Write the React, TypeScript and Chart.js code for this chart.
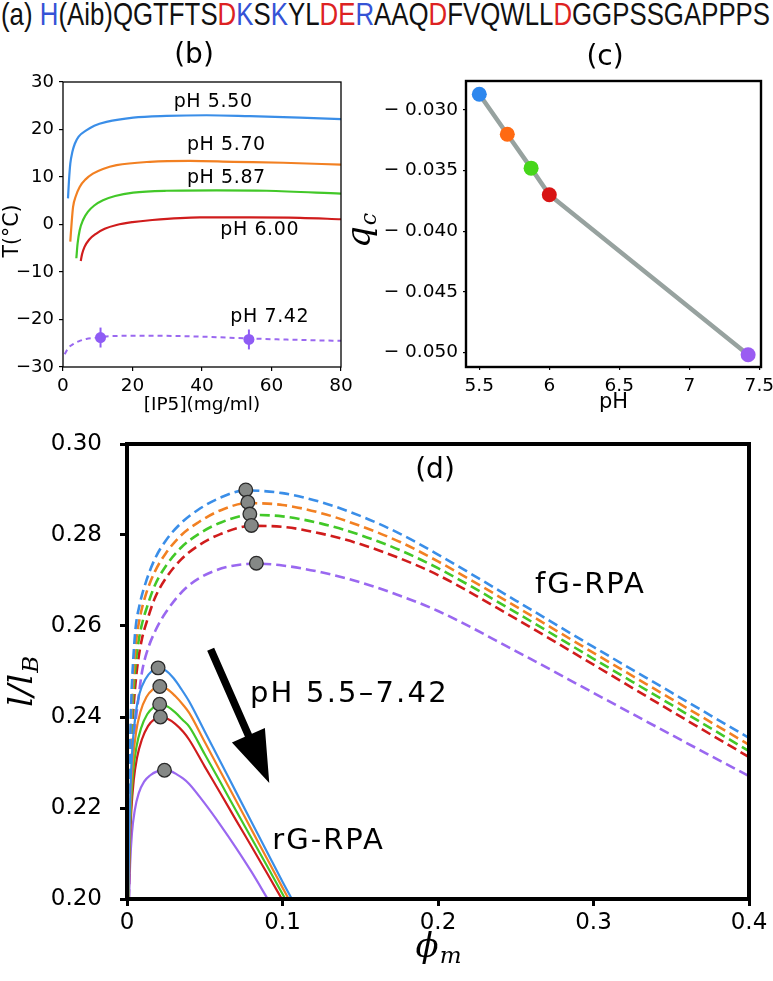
import React, { useEffect, useLayoutEffect, useRef, useState } from "react";
import { Chart, registerables } from "chart.js";
Chart.register(...registerables);

// ================= DATA =================
// (a) peptide sequence, split by residue charge
const seqParts = ["H", "(Aib)QGTFTS", "D", "K", "S", "K", "YL", "DE", "R", "AAQ", "D", "FVQWLL", "D", "GGPSSGAPPPS"];
const seqCharge = ["+", "0", "-", "+", "0", "+", "0", "-", "+", "0", "-", "0", "-", "0"];

// (b) T (°C) vs [IP5] (mg/ml)
const bNames = ["pH 5.50", "pH 5.70", "pH 5.87", "pH 6.00", "pH 7.42"];
const bX_550 = [1.44, 1.7, 2.1, 2.7, 3.4, 4.5, 6.7, 9, 12.5, 20.2, 29.8, 41.3, 53.8, 68.2, 80];
const bT_550 = [5.5, 9.0, 12.8, 15.3, 17.0, 18.5, 19.8, 20.8, 21.6, 22.5, 22.86, 23.0, 22.8, 22.5, 22.2];
const bX_570 = [2.1, 2.5, 2.9, 3.7, 4.8, 6.5, 8.6, 11.5, 15.4, 25, 36.5, 49, 63.4, 80];
const bT_570 = [-3.6, 0.5, 3.7, 6.0, 7.9, 9.5, 10.7, 11.7, 12.5, 13.2, 13.4, 13.2, 13.0, 12.6];
const bX_587 = [3.84, 4.2, 4.8, 5.8, 7.2, 9, 11.5, 15, 20.2, 29.8, 44.2, 58.6, 80];
const bT_587 = [-7.1, -4.0, -1.2, 1.0, 2.7, 4.0, 5.1, 6.0, 6.7, 7.1, 7.2, 7.1, 6.5];
const bX_600 = [5.1, 5.5, 6.2, 7.5, 9.6, 12, 15.4, 20, 25, 39.4, 53.8, 68.2, 80];
const bT_600 = [-7.7, -6.2, -4.7, -3.2, -1.9, -0.9, -0.1, 0.5, 0.9, 1.5, 1.5, 1.4, 1.1];
const bX_742 = [0.5, 1.5, 2.9, 4.5, 6.7, 10, 13.4, 25, 39.4, 53.8, 68.2, 80];
const bT_742 = [-27.3, -26.0, -25.2, -24.6, -24.1, -23.8, -23.5, -23.4, -23.6, -24.0, -24.3, -24.5];
const bExpX = [10.8, 53.5];
const bExpT = [-23.8, -24.2];
const bExpErr = [2.1, 2.1];

// (c) q_c vs pH
const cPH = [5.5, 5.7, 5.87, 6.0, 7.42];
const cQ = [-0.0287, -0.0320, -0.0348, -0.0370, -0.0502];

// (d) l/l_B vs phi_m
const dFgX_550 = [0.0008, 0.0012, 0.0018, 0.0027, 0.004, 0.0055, 0.008, 0.012, 0.018, 0.025, 0.035, 0.046, 0.06, 0.076, 0.1, 0.125, 0.15, 0.176, 0.2, 0.25, 0.3, 0.35, 0.4];
const dFgY_550 = [0.200, 0.214, 0.230, 0.243, 0.2525, 0.2595, 0.2645, 0.2695, 0.2748, 0.2788, 0.2827, 0.2856, 0.2882, 0.2898, 0.2892, 0.2872, 0.2842, 0.2802, 0.2757, 0.2656, 0.2554, 0.2454, 0.2354];
const dFgX_570 = [0.0009, 0.0013, 0.002, 0.003, 0.0045, 0.006, 0.0085, 0.012, 0.018, 0.025, 0.035, 0.046, 0.06, 0.0777, 0.1, 0.125, 0.15, 0.176, 0.2, 0.25, 0.3, 0.35, 0.4];
const dFgY_570 = [0.200, 0.213, 0.229, 0.2415, 0.251, 0.257, 0.2622, 0.2668, 0.2720, 0.2760, 0.2800, 0.2828, 0.2854, 0.2870, 0.2866, 0.2848, 0.2820, 0.2784, 0.2742, 0.2643, 0.2541, 0.2440, 0.2339];
const dFgX_587 = [0.001, 0.0014, 0.0022, 0.0033, 0.005, 0.0065, 0.009, 0.013, 0.018, 0.025, 0.035, 0.046, 0.06, 0.079, 0.1, 0.125, 0.15, 0.176, 0.2, 0.25, 0.3, 0.35, 0.4];
const dFgY_587 = [0.200, 0.212, 0.228, 0.240, 0.2495, 0.2545, 0.2595, 0.2643, 0.2690, 0.2732, 0.2773, 0.2802, 0.2827, 0.2844, 0.2841, 0.2825, 0.2800, 0.2766, 0.2727, 0.2630, 0.2528, 0.2427, 0.2325];
const dFgX_600 = [0.0011, 0.0015, 0.0024, 0.0036, 0.0055, 0.007, 0.0095, 0.0135, 0.018, 0.025, 0.035, 0.046, 0.06, 0.08, 0.1, 0.125, 0.15, 0.176, 0.2, 0.25, 0.3, 0.35, 0.4];
const dFgY_600 = [0.200, 0.211, 0.227, 0.2385, 0.2475, 0.252, 0.257, 0.2618, 0.2662, 0.2705, 0.2747, 0.2777, 0.2802, 0.2820, 0.2818, 0.2803, 0.2780, 0.2748, 0.2712, 0.2616, 0.2515, 0.2413, 0.2312];
const dFgX_742 = [0.0012, 0.002, 0.003, 0.0045, 0.0075, 0.0097, 0.013, 0.0183, 0.025, 0.0377, 0.057, 0.083, 0.1, 0.125, 0.15, 0.176, 0.2, 0.25, 0.3, 0.35, 0.4];
const dFgY_742 = [0.200, 0.214, 0.2255, 0.235, 0.2445, 0.2500, 0.2545, 0.2590, 0.2630, 0.2683, 0.2722, 0.2737, 0.2733, 0.2718, 0.2696, 0.2666, 0.2633, 0.2545, 0.2453, 0.2361, 0.2270];

const dRgX_550 = [0.0008, 0.0014, 0.0022, 0.0035, 0.0055, 0.008, 0.012, 0.016, 0.02, 0.025, 0.03, 0.035, 0.04, 0.05, 0.06, 0.07, 0.08, 0.09, 0.1, 0.106];
const dRgY_550 = [0.200, 0.213, 0.224, 0.2335, 0.2405, 0.2451, 0.2484, 0.2501, 0.2508, 0.2502, 0.2485, 0.2461, 0.2434, 0.2368, 0.2302, 0.2236, 0.2170, 0.2104, 0.2038, 0.2000];
const dRgX_570 = [0.0009, 0.0015, 0.0024, 0.0038, 0.0058, 0.0085, 0.0125, 0.0165, 0.0211, 0.026, 0.031, 0.036, 0.04, 0.05, 0.06, 0.07, 0.08, 0.09, 0.1, 0.104];
const dRgY_570 = [0.200, 0.2125, 0.2225, 0.2305, 0.2366, 0.2410, 0.2444, 0.2460, 0.2467, 0.2461, 0.2446, 0.2427, 0.2409, 0.2345, 0.2281, 0.2217, 0.2153, 0.2089, 0.2025, 0.2000];
const dRgX_587 = [0.001, 0.0016, 0.0026, 0.004, 0.006, 0.009, 0.013, 0.017, 0.021, 0.026, 0.031, 0.036, 0.04, 0.05, 0.06, 0.07, 0.08, 0.09, 0.1018];
const dRgY_587 = [0.200, 0.2115, 0.2210, 0.2280, 0.2333, 0.2375, 0.2406, 0.2421, 0.2428, 0.2423, 0.2410, 0.2393, 0.2379, 0.2318, 0.2257, 0.2195, 0.2134, 0.2073, 0.2000];
const dRgX_600 = [0.0011, 0.0017, 0.0028, 0.0043, 0.0064, 0.0095, 0.0135, 0.0175, 0.0215, 0.026, 0.031, 0.036, 0.04, 0.05, 0.06, 0.07, 0.08, 0.09, 0.0996];
const dRgY_600 = [0.200, 0.2105, 0.2195, 0.2260, 0.2310, 0.2350, 0.2380, 0.2395, 0.2400, 0.2396, 0.2385, 0.2368, 0.2350, 0.2291, 0.2233, 0.2174, 0.2116, 0.2057, 0.2000];
const dRgX_742 = [0.0013, 0.002, 0.0032, 0.005, 0.0075, 0.011, 0.015, 0.019, 0.024, 0.028, 0.032, 0.036, 0.04, 0.05, 0.06, 0.07, 0.08, 0.0905];
const dRgY_742 = [0.200, 0.2075, 0.2145, 0.2195, 0.2232, 0.2258, 0.2272, 0.2280, 0.2283, 0.2281, 0.2274, 0.2265, 0.2253, 0.2210, 0.2163, 0.2113, 0.2060, 0.2000];

const dRgPeakX = [0.020, 0.0211, 0.021, 0.0215, 0.0241];
const dRgPeakY = [0.2508, 0.2467, 0.2428, 0.2400, 0.2283];
const dFgPeakX = [0.0764, 0.0777, 0.079, 0.080, 0.0832];
const dFgPeakY = [0.2899, 0.2872, 0.2846, 0.2821, 0.2738];

// ================= STYLE =================
const SANS = "'DejaVu Sans', sans-serif";
const SERIF = "'DejaVu Serif', serif";
const COL = ["#3a8ee8", "#f28022", "#42c828", "#d01c1c", "#9a68f0"];
const COL_C = ["#2d87ee", "#ff6a12", "#46d61a", "#d81414", "#9a5cf2"];
const SEQ_COL: Record<string, string> = { "+": "#3553d6", "-": "#dd2222", "0": "#111" };

const pts = (xs: number[], ys: number[]) => xs.map((x, i) => ({ x, y: ys[i] }));

function txt(ctx: CanvasRenderingContext2D, s: string, x: number, y: number, font: string, o: any = {}) {
  ctx.save();
  ctx.font = font;
  ctx.fillStyle = o.color || "#000";
  ctx.textAlign = o.align || "center";
  ctx.textBaseline = o.baseline || "middle";
  (ctx as any).letterSpacing = (o.spacing || 0) + "px";
  ctx.translate(x, y);
  if (o.rot) ctx.rotate(o.rot);
  ctx.fillText(s, 0, 0);
  ctx.restore();
}

// main + subscript, centred at (cx, cy), optionally rotated
function subLabel(ctx: CanvasRenderingContext2D, main: string, sub: string, cx: number, cy: number, f1: string, f2: string, drop: number, rot = 0) {
  ctx.save();
  ctx.translate(cx, cy);
  if (rot) ctx.rotate(rot);
  ctx.font = f1;
  const w1 = ctx.measureText(main).width;
  ctx.font = f2;
  const w2 = ctx.measureText(sub).width;
  const x0 = -(w1 + w2) / 2;
  ctx.fillStyle = "#000";
  ctx.textAlign = "left";
  ctx.textBaseline = "alphabetic";
  ctx.font = f1;
  ctx.fillText(main, x0, 8);
  ctx.font = f2;
  ctx.fillText(sub, x0 + w1 + 1, 8 + drop);
  ctx.restore();
}

const framePlugin = (lw: number) => ({
  id: "frame",
  afterDraw(chart: any) {
    const { ctx, chartArea: a } = chart;
    ctx.save();
    ctx.strokeStyle = "#000";
    ctx.lineWidth = lw;
    ctx.strokeRect(a.left, a.top, a.right - a.left, a.bottom - a.top);
    ctx.restore();
  },
});

function axis(min: number, max: number, step: number, fontSize: number, pad: number, tl: number, tw: number, fit: (s: any) => void, cb?: (v: number) => string) {
  return {
    type: "linear",
    min,
    max,
    ticks: {
      stepSize: step,
      includeBounds: false,
      font: { family: SANS, size: fontSize },
      color: "#000",
      padding: pad,
      maxRotation: 0,
      autoSkip: false,
      ...(cb ? { callback: cb } : {}),
    },
    grid: { display: true, drawOnChartArea: false, drawTicks: true, tickLength: tl, color: "#000", lineWidth: tw },
    border: { display: false },
    afterFit: fit,
  };
}

const minusFmt = (v: number) => (v < 0 ? "\u2212" + Math.abs(v) : String(v));

// ================= CHART CONFIGS =================
function makeB() {
  const series = [
    [bX_550, bT_550],
    [bX_570, bT_570],
    [bX_587, bT_587],
    [bX_600, bT_600],
  ];
  const datasets: any[] = series.map(([xs, ys], i) => ({
    label: bNames[i],
    data: pts(xs, ys),
    borderColor: COL[i],
    borderWidth: 2.2,
    pointRadius: 0,
    cubicInterpolationMode: "monotone",
    order: 1,
  }));
  datasets.push({
    label: bNames[4],
    data: pts(bX_742, bT_742),
    borderColor: COL[4],
    borderWidth: 2,
    borderDash: [5, 4],
    pointRadius: 0,
    cubicInterpolationMode: "monotone",
    order: 1,
  });
  datasets.push({
    label: bNames[4] + " exp",
    data: pts(bExpX, bExpT),
    showLine: false,
    pointRadius: 5.5,
    pointBackgroundColor: "#8f5cf5",
    pointBorderWidth: 0,
    order: 0,
  });
  const labelPos = [
    [43.2, 25.8],
    [47.0, 16.7],
    [47.0, 9.7],
    [56.6, -1.2],
    [59.5, -19.5],
  ];
  const deco = {
    id: "bdeco",
    afterDatasetsDraw(chart: any) {
      const { ctx, scales: { x, y } } = chart;
      ctx.save();
      ctx.strokeStyle = "#8f5cf5";
      ctx.lineWidth = 2;
      bExpX.forEach((v, i) => {
        const X = x.getPixelForValue(v);
        ctx.beginPath();
        ctx.moveTo(X, y.getPixelForValue(bExpT[i] - bExpErr[i]));
        ctx.lineTo(X, y.getPixelForValue(bExpT[i] + bExpErr[i]));
        ctx.stroke();
      });
      ctx.restore();
    },
    afterDraw(chart: any) {
      const { ctx, chartArea: a, scales: { x, y } } = chart;
      bNames.forEach((n, i) => txt(ctx, n, x.getPixelForValue(labelPos[i][0]), y.getPixelForValue(labelPos[i][1]), `19px ${SANS}`, { spacing: 0.6 }));
      txt(ctx, "(b)", a.left + 131, a.top - 26, `28px ${SANS}`);
      txt(ctx, "[IP5](mg/ml)", (a.left + a.right) / 2, a.bottom + 38, `18.5px ${SANS}`);
      txt(ctx, "T(°C)", 13, 201, `20.5px ${SANS}`, { rot: -Math.PI / 2 });
    },
  };
  return {
    type: "line",
    data: { datasets },
    options: {
      animation: false,
      responsive: false,
      devicePixelRatio: 1,
      layout: { padding: { left: 0, top: 52, right: 39, bottom: 0 }, autoPadding: false },
      plugins: { legend: { display: false }, tooltip: { enabled: false } },
      scales: {
        x: axis(0, 80, 20, 18.5, 4, 4, 1.2, (s: any) => { s.height = 63; s.paddingLeft = 0; s.paddingRight = 0; }),
        y: axis(-30, 30, 10, 18, 5, 4, 1.2, (s: any) => { s.width = 63; s.paddingTop = 0; s.paddingBottom = 0; }, minusFmt),
      },
    },
    plugins: [framePlugin(1.3), deco],
  };
}

function makeC() {
  const deco = {
    id: "cdeco",
    afterDraw(chart: any) {
      const { ctx, chartArea: a } = chart;
      txt(ctx, "(c)", a.left + 139, a.top - 23, `28px ${SANS}`);
      txt(ctx, "pH", (a.left + a.right) / 2, a.bottom + 36, `21px ${SANS}`);
      subLabel(ctx, "q", "c", 22, a.top + 150, `italic 34px ${SERIF}`, `italic 22px ${SERIF}`, 6, -Math.PI / 2);
    },
  };
  return {
    type: "line",
    data: {
      datasets: [
        {
          label: "q_c",
          data: pts(cPH, cQ),
          borderColor: "#97a29f",
          borderWidth: 4.5,
          pointRadius: 7.5,
          pointBackgroundColor: COL_C,
          pointBorderWidth: 0,
          tension: 0,
        },
      ],
    },
    options: {
      animation: false,
      responsive: false,
      devicePixelRatio: 1,
      layout: { padding: { left: 0, top: 51, right: 12, bottom: 0 }, autoPadding: false },
      plugins: { legend: { display: false }, tooltip: { enabled: false } },
      scales: {
        x: axis(5.405, 7.512, 0.5, 18.5, 5, 3, 1.2, (s: any) => { s.height = 63; s.paddingLeft = 0; s.paddingRight = 0; },
          (v: number) => String(parseFloat(v.toFixed(1)))),
        y: axis(-0.05121, -0.02761, 0.005, 18.5, 5, 3, 1.2, (s: any) => { s.width = 126; s.paddingTop = 0; s.paddingBottom = 0; },
          (v: number) => "\u2212 " + Math.abs(v).toFixed(3)),
      },
    },
    plugins: [framePlugin(2.4), deco],
  };
}

function makeD() {
  const fg = [
    [dFgX_550, dFgY_550],
    [dFgX_570, dFgY_570],
    [dFgX_587, dFgY_587],
    [dFgX_600, dFgY_600],
    [dFgX_742, dFgY_742],
  ];
  const rg = [
    [dRgX_550, dRgY_550],
    [dRgX_570, dRgY_570],
    [dRgX_587, dRgY_587],
    [dRgX_600, dRgY_600],
    [dRgX_742, dRgY_742],
  ];
  const datasets: any[] = [];
  fg.forEach(([xs, ys], i) =>
    datasets.push({
      label: "fG " + bNames[i],
      data: pts(xs, ys),
      borderColor: COL[i],
      borderWidth: 2.6,
      borderDash: [10, 5],
      pointRadius: 0,
      cubicInterpolationMode: "monotone",
      order: 2,
    })
  );
  rg.forEach(([xs, ys], i) =>
    datasets.push({
      label: "rG " + bNames[i],
      data: pts(xs, ys),
      borderColor: COL[i],
      borderWidth: 2.2,
      pointRadius: 0,
      cubicInterpolationMode: "monotone",
      order: 1,
    })
  );
  [[dFgPeakX, dFgPeakY], [dRgPeakX, dRgPeakY]].forEach(([xs, ys], k) =>
    datasets.push({
      label: k ? "rG peaks" : "fG peaks",
      data: pts(xs, ys),
      showLine: false,
      pointRadius: 6.8,
      pointBackgroundColor: "#858886",
      pointBorderColor: "#2a2a2a",
      pointBorderWidth: 1.3,
      order: 0,
    })
  );
  const arrowFrom = [0.0538, 0.2549];
  const arrowTo = [0.0915, 0.2255];
  const deco = {
    id: "ddeco",
    afterDraw(chart: any) {
      const { ctx, chartArea: a, scales: { x, y } } = chart;
      // arrow
      const x1 = x.getPixelForValue(arrowFrom[0]), y1 = y.getPixelForValue(arrowFrom[1]);
      const x2 = x.getPixelForValue(arrowTo[0]), y2 = y.getPixelForValue(arrowTo[1]);
      const L = Math.hypot(x2 - x1, y2 - y1);
      const ux = (x2 - x1) / L, uy = (y2 - y1) / L;
      const nx = -uy, ny = ux;
      const hl = 52, hw = 18, sw = 3.8;
      const bx = x2 - ux * hl, by = y2 - uy * hl;
      ctx.save();
      ctx.fillStyle = "#000";
      ctx.beginPath();
      ctx.moveTo(x1 + nx * sw, y1 + ny * sw);
      ctx.lineTo(bx + nx * sw, by + ny * sw);
      ctx.lineTo(bx + nx * hw, by + ny * hw);
      ctx.lineTo(x2, y2);
      ctx.lineTo(bx - nx * hw, by - ny * hw);
      ctx.lineTo(bx - nx * sw, by - ny * sw);
      ctx.lineTo(x1 - nx * sw, y1 - ny * sw);
      ctx.closePath();
      ctx.fill();
      ctx.restore();
      txt(ctx, "pH 5.5–7.42", x.getPixelForValue(0.143), y.getPixelForValue(0.2449), `29px ${SANS}`, { spacing: 2.2 });
      txt(ctx, "fG-RPA", x.getPixelForValue(0.298), y.getPixelForValue(0.269), `29px ${SANS}`, { spacing: 2 });
      txt(ctx, "rG-RPA", x.getPixelForValue(0.1296), y.getPixelForValue(0.2126), `29px ${SANS}`, { spacing: 2 });
      txt(ctx, "(d)", a.left + 308, a.top + 27, `28px ${SANS}`);
      subLabel(ctx, "\u03D5", "m", (a.left + a.right) / 2, a.bottom + 50, `italic 34px ${SERIF}`, `italic 23px ${SERIF}`, 6);
      subLabel(ctx, "l/l", "B", 24, a.top + 238, `italic 34px ${SERIF}`, `italic 23px ${SERIF}`, 6, -Math.PI / 2);
    },
  };
  return {
    type: "line",
    data: { datasets },
    options: {
      animation: false,
      responsive: false,
      devicePixelRatio: 1,
      layout: { padding: { left: 0, top: 19, right: 24, bottom: 0 }, autoPadding: false },
      plugins: { legend: { display: false }, tooltip: { enabled: false } },
      scales: {
        x: axis(0, 0.4, 0.1, 23, 3, 7, 3, (s: any) => { s.height = 82; s.paddingLeft = 0; s.paddingRight = 0; }),
        y: axis(0.2, 0.3, 0.02, 23, 18, 7, 3, (s: any) => { s.width = 127; s.paddingTop = 0; s.paddingBottom = 0; },
          (v: number) => v.toFixed(2)),
      },
    },
    plugins: [framePlugin(4), deco],
  };
}

// ================= COMPONENTS =================
function ChartBox({ left, top, width, height, make }: { left: number; top: number; width: number; height: number; make: () => any }) {
  const ref = useRef<HTMLCanvasElement>(null);
  useEffect(() => {
    const chart = new Chart(ref.current as HTMLCanvasElement, make() as any);
    return () => chart.destroy();
  }, []);
  return <canvas ref={ref} width={width} height={height} style={{ position: "absolute", left, top, width, height }} />;
}

function Sequence() {
  const ref = useRef<HTMLDivElement>(null);
  const [sx, setSx] = useState(1);
  useLayoutEffect(() => {
    if (ref.current) {
      const w = ref.current.scrollWidth;
      if (w > 0) setSx(769 / w);
    }
  }, []);
  return (
    <div
      ref={ref}
      style={{
        position: "absolute",
        left: 1,
        top: -2,
        whiteSpace: "nowrap",
        fontFamily: "'Liberation Sans Narrow', 'Liberation Sans', Arial, sans-serif",
        fontSize: 32,
        lineHeight: "32px",
        color: "#111",
        transform: `scaleX(${sx})`,
        transformOrigin: "0 0",
      }}
    >
      <span>(a) </span>
      {seqParts.map((p, i) => (
        <span key={i} style={{ color: SEQ_COL[seqCharge[i]] }}>
          {p}
        </span>
      ))}
    </div>
  );
}

export default function App() {
  return (
    <div style={{ position: "absolute", left: 0, top: 0, width: 773, height: 981, background: "#fff", overflow: "hidden" }}>
      <Sequence />
      <ChartBox left={0} top={30} width={380} height={400} make={makeB} />
      <ChartBox left={340} top={30} width={433} height={400} make={makeC} />
      <ChartBox left={0} top={425} width={773} height={556} make={makeD} />
    </div>
  );
}
